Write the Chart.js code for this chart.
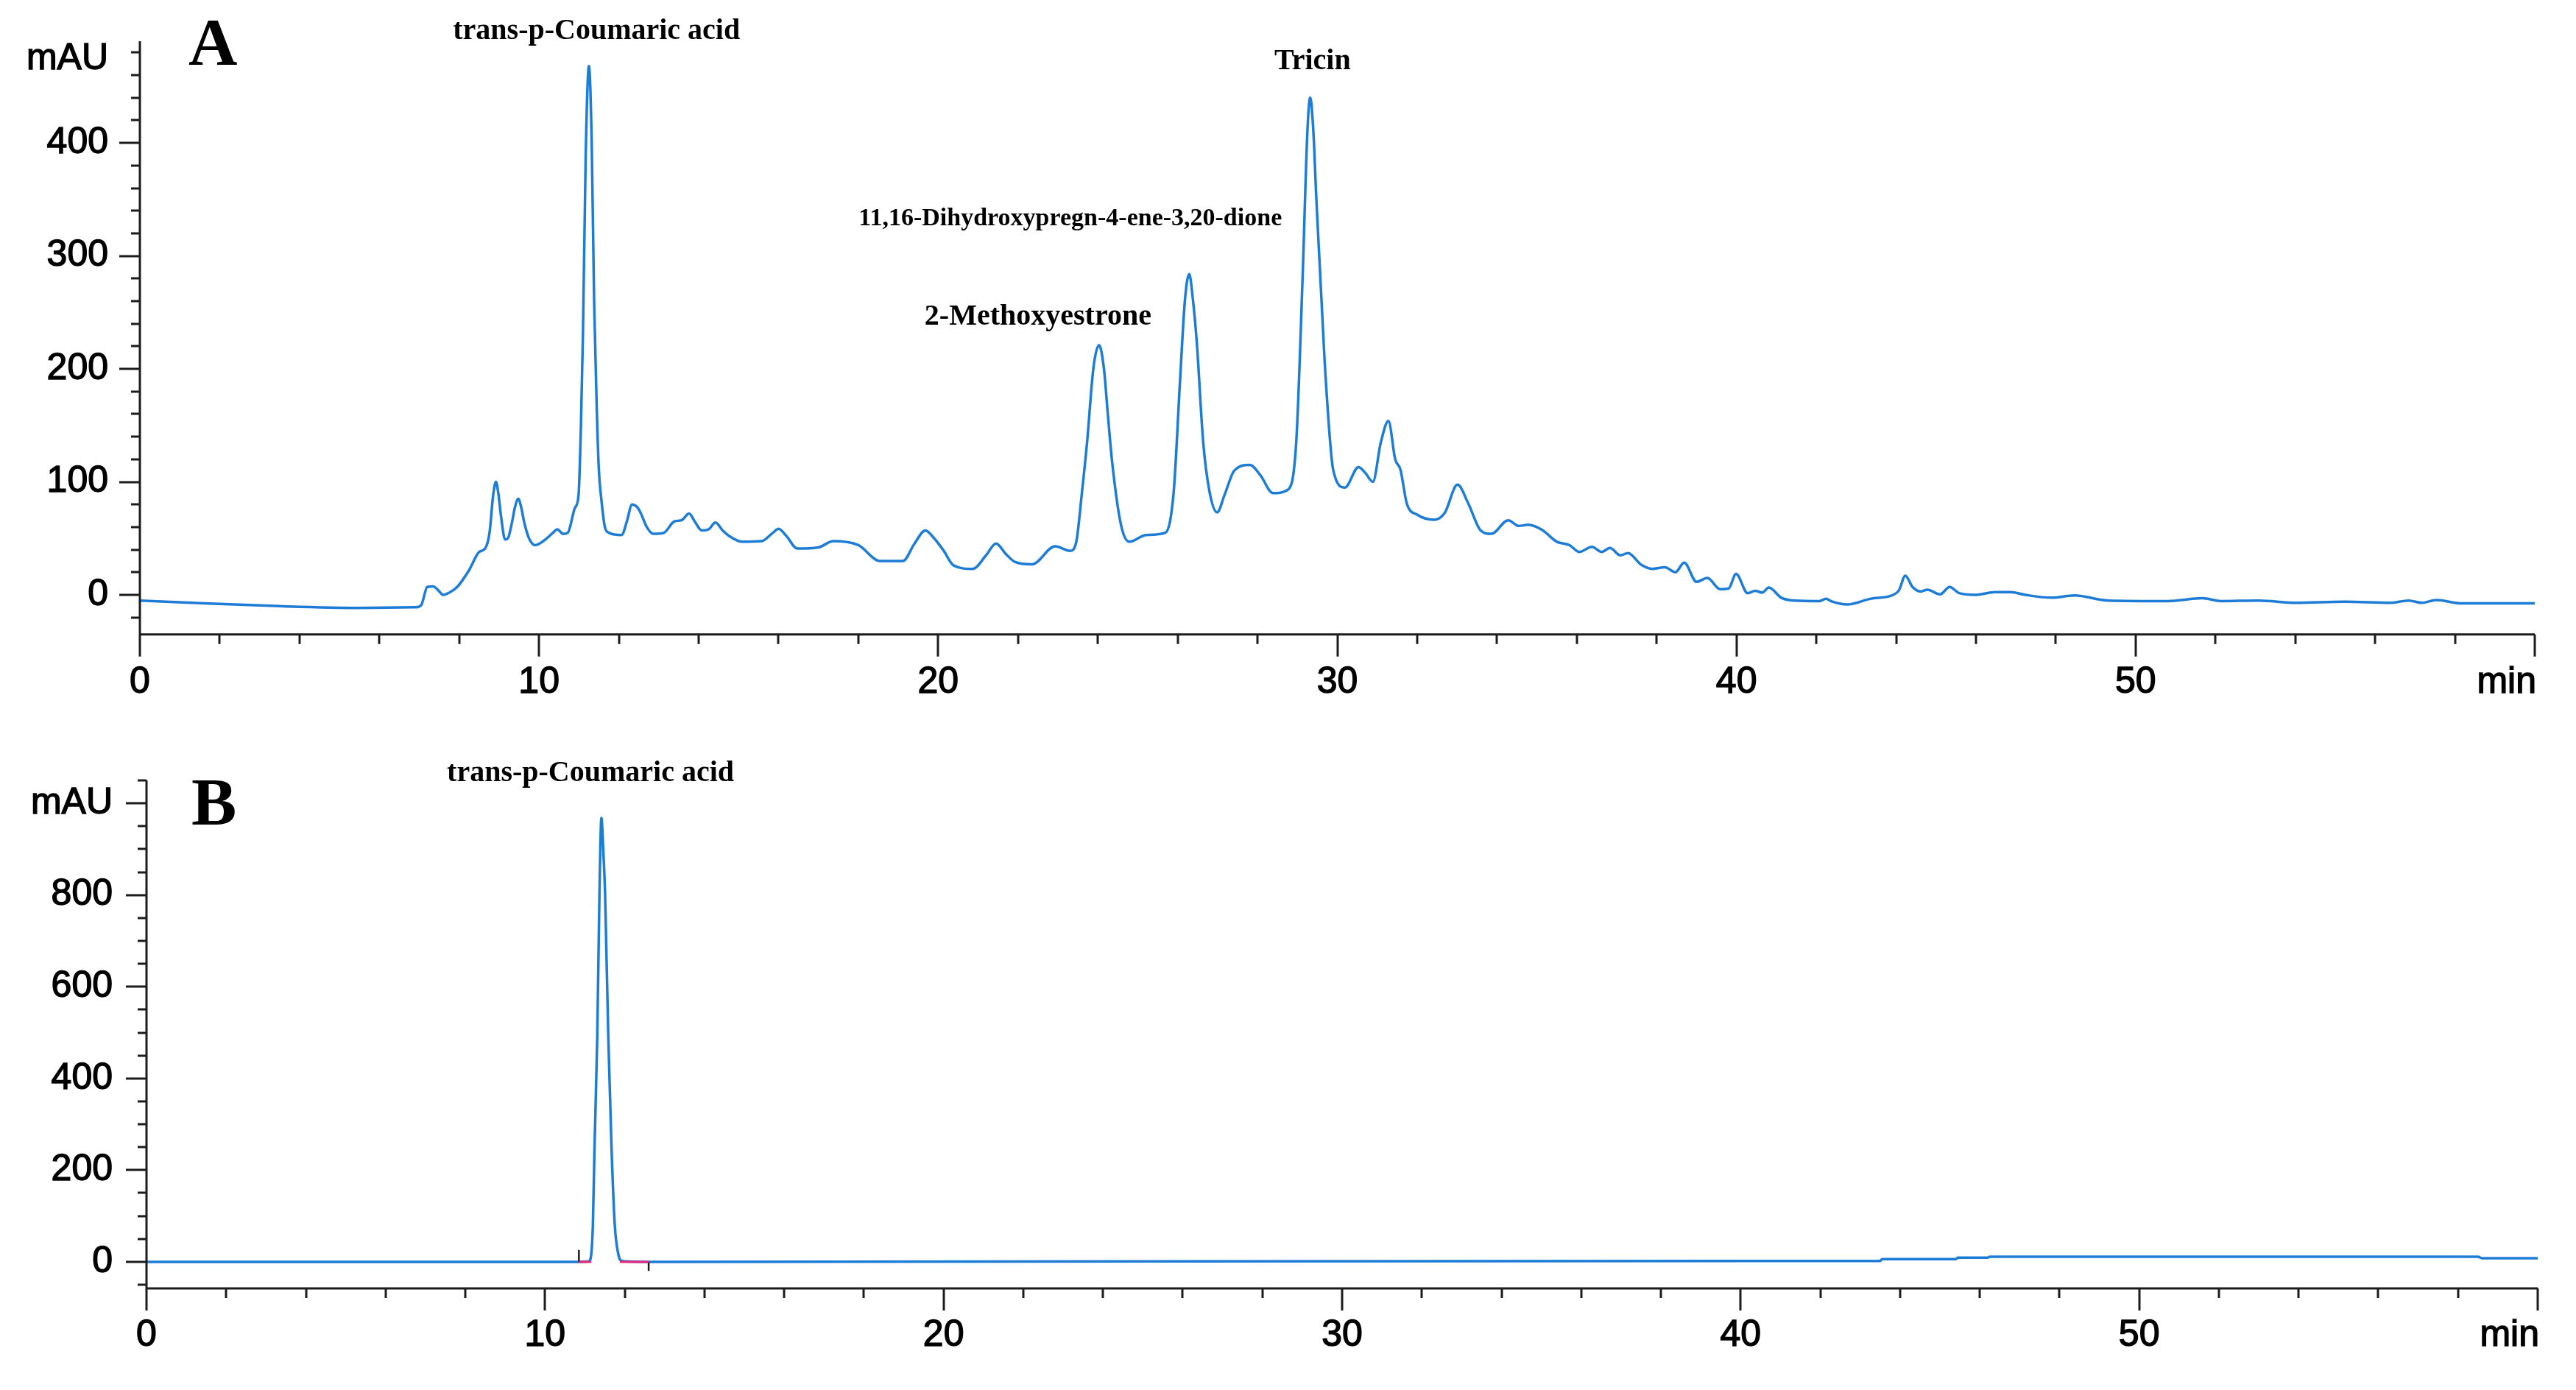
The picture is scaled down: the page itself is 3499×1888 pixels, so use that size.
<!DOCTYPE html>
<html>
<head>
<meta charset="utf-8">
<title>HPLC chromatograms A and B</title>
<script src="https://cdn.jsdelivr.net/npm/chart.js@4.4.1/dist/chart.umd.min.js"></script>
<style>
  html, body { margin: 0; padding: 0; background: #fff; }
  body { width: 3499px; height: 1888px; position: relative; overflow: hidden; }
  canvas { position: absolute; left: 0; }
  #chartA { top: 0; }
  #chartB { top: 960px; }
</style>
</head>
<body>
<canvas id="chartA" width="3499" height="960"></canvas>
<canvas id="chartB" width="3499" height="928"></canvas>
<script>
// ---- Panel A: extract, retention time (min) vs absorbance (mAU) ----
const timeA = [
  0, 1.3, 3.5, 5.5, 6.9, 7.05, 7.2, 7.35, 7.45, 7.6,
  7.75, 7.95, 8.25, 8.5, 8.65, 8.76, 8.85, 8.92, 8.98, 9.05,
  9.15, 9.22, 9.31, 9.4, 9.48, 9.55, 9.63, 9.75, 9.9, 10.16,
  10.35, 10.46, 10.6, 10.72, 10.9, 10.99, 11.05, 11.1, 11.17, 11.25,
  11.32, 11.38, 11.45, 11.5, 11.56, 11.65, 11.75, 12.07, 12.2, 12.33,
  12.45, 12.54, 12.7, 12.86, 13.13, 13.39, 13.57, 13.76, 13.9, 14.08,
  14.25, 14.42, 14.6, 14.77, 15.09, 15.57, 15.86, 16.0, 16.2, 16.47,
  17.0, 17.37, 18.0, 18.54, 19.12, 19.4, 19.68, 19.9, 20.13, 20.39,
  20.87, 21.2, 21.45, 21.7, 21.93, 22.35, 22.93, 23.31, 23.46, 23.6,
  23.73, 23.89, 24.03, 24.15, 24.25, 24.36, 24.58, 24.79, 25.21, 25.69,
  25.9, 26.06, 26.18, 26.29, 26.38, 26.48, 26.64, 26.8, 26.99, 27.17,
  27.42, 27.81, 28.07, 28.39, 28.76, 28.97, 29.13, 29.25, 29.32, 29.4,
  29.47, 29.68, 29.9, 30.19, 30.53, 30.7, 30.89, 31.09, 31.28, 31.45,
  31.58, 31.74, 32.0, 32.43, 32.69, 33.01, 33.28, 33.59, 33.86, 34.28,
  34.55, 34.78, 35.13, 35.5, 35.82, 36.06, 36.38, 36.62, 36.83, 37.09,
  37.28, 37.62, 37.89, 38.21, 38.47, 38.69, 39.0, 39.27, 39.59, 39.8,
  39.99, 40.28, 40.47, 40.65, 40.81, 41.12, 41.44, 42.08, 42.24, 42.4,
  42.77, 43.35, 43.93, 44.07, 44.23, 44.41, 44.62, 44.78, 45.1, 45.34,
  45.58, 46.0, 46.48, 46.87, 47.24, 47.9, 48.47, 49.31, 50.82, 51.67,
  52.14, 53.08, 54.02, 55.24, 56.37, 56.84, 57.17, 57.54, 58.15, 60
];
const signalA = [
  -5, -7, -10, -11.5, -11, -9, 7, 7.5, 5, 0,
  2, 7, 22, 38, 41, 55, 88, 100, 90, 69,
  49, 50, 62, 78, 85, 78, 64, 50, 44, 49,
  55, 58, 54, 55, 77, 88, 150, 230, 390, 468,
  400, 260, 160, 110, 85, 60, 55, 53, 65, 80,
  78, 73, 60, 54, 55, 65, 66, 72, 65, 57,
  58, 64, 57, 52, 47, 47.5, 55, 58.5, 52, 41,
  42, 47.5, 44, 30, 30, 45, 57, 50, 39.5, 26,
  23, 35, 45.5, 36, 29, 27, 43, 39, 47, 90,
  135, 201, 221, 201, 160, 117, 62, 47, 53, 55,
  91, 190, 260, 284, 262, 223, 135, 91, 73, 88,
  110, 115, 106, 90, 93, 135, 281, 410, 440, 410,
  354, 208, 110, 95, 113, 108, 100, 135, 154, 120,
  111, 81, 71, 66.5, 72.5, 97.5, 81, 57, 54, 66,
  61, 62, 57.5, 47, 44, 38, 42.5, 38, 41.5, 35,
  37, 26.5, 23, 24.5, 20, 28.5, 11.5, 15, 5, 5.5,
  18.5, 1.5, 3.5, 2, 6.5, -2.5, -5, -5.5, -3.5, -6,
  -8.5, -3.5, 0, 4, 17, 7, 3, 4.5, 0.5, 7,
  1.5, 0, 2.5, 2.5, 0, -2.5, -0.5, -5, -5.5, -3,
  -5.5, -5, -7, -6, -7, -5, -7, -4.5, -7.5, -7.5
];
const peakNamesA = ['trans-p-Coumaric acid', 'Tricin', '11,16-Dihydroxypregn-4-ene-3,20-dione', '2-Methoxyestrone'];
const yTickLabelsA = [0, 100, 200, 300, 400];

// ---- Panel B: trans-p-coumaric acid standard ----
const timeB = [0, 10.85, 11.1, 11.156, 11.2, 11.24, 11.31, 11.365, 11.415, 11.46,
  11.507, 11.587, 11.67, 11.75, 11.845, 11.9, 12.0, 12.6, 40, 43.5,
  43.55, 45.4, 45.45, 46.2, 46.25, 58.5, 58.6, 60];
const signalB = [0, 0, 1, 14, 80, 244, 490, 801, 968, 900,
  801, 490, 244, 80, 14, 3, 1, 0, 2, 2,
  6, 6, 9, 9, 11, 11, 8, 8];
const baselineStartB = [10.85, 11.88];   // integration baseline segments (red)
const baselineEndB = [11.16, 12.6];
const markerTimesB = [10.85, 12.6];      // peak start / end marks
const markerHeightsB = [26, -20];
const peakNamesB = ['trans-p-Coumaric acid'];
const yTickLabelsB = [0, 200, 400, 600, 800];

const xTickLabels = [0, 10, 20, 30, 40, 50];

const TRACE_COLOR = 'rgb(28, 124, 214)';
const BASELINE_COLOR = 'rgb(232, 40, 120)';
const AXIS_COLOR = '#1c1c1c';
const TEXT_COLOR = '#000';
const SANS = '"Liberation Sans", Arial, sans-serif';
const SERIF = '"Liberation Serif", "Times New Roman", serif';
const TEXT_STROKE = 1.4;   // scanned print looks a bit heavier than plain Arial

function toPoints(xs, ys) {
  return xs.map((x, i) => ({ x: x, y: ys[i] }));
}

// axis lines, major/minor ticks, unit labels, panel letter and peak names
const hplcAxes = {
  id: 'hplcAxes',
  afterDraw(chart, args, o) {
    const { ctx, chartArea: a, scales: { x, y } } = chart;
    ctx.save();
    ctx.strokeStyle = AXIS_COLOR;
    ctx.lineWidth = 3;
    ctx.beginPath();
    ctx.moveTo(a.left, a.top);
    ctx.lineTo(a.left, a.bottom);
    ctx.lineTo(a.right, a.bottom);
    y.ticks.forEach(t => {
      const py = Math.round(y.getPixelForValue(t.value));
      const len = t.value % o.yMajor === 0 ? 28 : 12;
      ctx.moveTo(a.left - len, py);
      ctx.lineTo(a.left, py);
    });
    x.ticks.forEach(t => {
      const px = Math.round(x.getPixelForValue(t.value));
      const len = t.value % 10 === 0 ? 30 : 13;
      ctx.moveTo(px, a.bottom);
      ctx.lineTo(px, a.bottom + len);
    });
    ctx.stroke();

    const label = (txt, px, py) => {
      ctx.fillText(txt, px, py);
      ctx.strokeText(txt, px, py);
    };
    ctx.fillStyle = TEXT_COLOR;
    ctx.strokeStyle = TEXT_COLOR;
    ctx.lineWidth = TEXT_STROKE;
    ctx.font = '50px ' + SANS;
    ctx.textBaseline = 'middle';
    ctx.textAlign = 'right';
    label('mAU', a.left - y.options.ticks.padding, y.getPixelForValue(o.unitAt));
    label('min', a.right + 2, a.bottom + x.options.ticks.padding + 30);

    ctx.lineWidth = 1;
    ctx.textBaseline = 'alphabetic';
    ctx.textAlign = 'left';
    ctx.font = 'bold 92px ' + SERIF;
    ctx.fillText(o.letter, o.letterX, o.letterY);

    ctx.textAlign = 'center';
    o.names.forEach((name, i) => {
      const p = o.namePos[i];
      ctx.font = 'bold ' + p.size + 'px ' + SERIF;
      ctx.fillText(name, x.getPixelForValue(p.t), y.getPixelForValue(p.v));
    });
    ctx.restore();
  }
};

function noEdgePadding(s) {
  s.paddingTop = 0;
  s.paddingBottom = 0;
  s.paddingLeft = 0;
  s.paddingRight = 0;
}

function scalesFor(yMin, yMax, yStep, yLabels, yWidth, yPad, xHeight, xPad) {
  const tickFont = { family: SANS, size: 50 };
  return {
    x: {
      type: 'linear', min: 0, max: 60,
      grid: { display: false, drawTicks: false },
      border: { display: false },
      ticks: {
        stepSize: 2, autoSkip: false, maxRotation: 0, padding: xPad,
        color: TEXT_COLOR, font: tickFont,
        textStrokeColor: TEXT_COLOR, textStrokeWidth: TEXT_STROKE,
        callback: v => xTickLabels.includes(Math.round(v)) ? String(Math.round(v)) : ''
      },
      afterFit: s => { s.height = xHeight; noEdgePadding(s); }
    },
    y: {
      type: 'linear', min: yMin, max: yMax,
      grid: { display: false, drawTicks: false },
      border: { display: false },
      ticks: {
        stepSize: yStep, includeBounds: false, autoSkip: false, padding: yPad,
        color: TEXT_COLOR, font: tickFont,
        textStrokeColor: TEXT_COLOR, textStrokeWidth: TEXT_STROKE,
        callback: v => yLabels.includes(Math.round(v)) ? String(Math.round(v)) : ''
      },
      afterFit: s => { s.width = yWidth; noEdgePadding(s); }
    }
  };
}

const common = {
  responsive: false,
  animation: false,
  devicePixelRatio: 1,
  events: []
};

new Chart(document.getElementById('chartA'), {
  type: 'line',
  data: {
    datasets: [{
      data: toPoints(timeA, signalA),
      borderColor: TRACE_COLOR,
      borderWidth: 3.5,
      pointRadius: 0,
      cubicInterpolationMode: 'monotone',
      fill: false
    }]
  },
  options: Object.assign({}, common, {
    layout: { padding: { top: 56, right: 56, left: 0, bottom: 0 } },
    plugins: {
      legend: { display: false },
      tooltip: { enabled: false },
      hplcAxes: {
        yMajor: 100, unitAt: 474, letter: 'A', letterX: 256, letterY: 88,
        names: peakNamesA,
        namePos: [
          { t: 11.44, v: 492, size: 40 },
          { t: 29.38, v: 465, size: 40 },
          { t: 23.31, v: 327, size: 34 },
          { t: 22.5, v: 239, size: 40 }
        ]
      }
    },
    scales: scalesFor(-35, 490, 20, yTickLabelsA, 190, 43, 98.3, 36)
  }),
  plugins: [hplcAxes]
});

const baselinePts = [];
baselineStartB.forEach((s, i) => {
  if (i > 0) baselinePts.push({ x: (baselineEndB[i - 1] + s) / 2, y: null });
  baselinePts.push({ x: s, y: 0 }, { x: baselineEndB[i], y: 0 });
});
const markerPts = [];
markerTimesB.forEach((t, i) => {
  if (i > 0) markerPts.push({ x: (markerTimesB[i - 1] + t) / 2, y: null });
  markerPts.push({ x: t, y: 0 }, { x: t, y: markerHeightsB[i] });
});

new Chart(document.getElementById('chartB'), {
  type: 'line',
  data: {
    datasets: [{
      data: baselinePts,
      borderColor: BASELINE_COLOR,
      borderWidth: 3,
      pointRadius: 0,
      spanGaps: false,
      order: 0
    }, {
      data: markerPts,
      borderColor: AXIS_COLOR,
      borderWidth: 2.5,
      pointRadius: 0,
      spanGaps: false,
      order: 1
    }, {
      data: toPoints(timeB, signalB),
      borderColor: TRACE_COLOR,
      borderWidth: 3.5,
      pointRadius: 0,
      cubicInterpolationMode: 'monotone',
      fill: false,
      order: 2
    }]
  },
  options: Object.assign({}, common, {
    layout: { padding: { top: 100, right: 52, left: 0, bottom: 0 } },
    plugins: {
      legend: { display: false },
      tooltip: { enabled: false },
      hplcAxes: {
        yMajor: 200, unitAt: 1000, letter: 'B', letterX: 260, letterY: 160,
        names: peakNamesB,
        namePos: [{ t: 11.14, v: 1049, size: 40 }]
      }
    },
    scales: scalesFor(-58, 1050, 50, yTickLabelsB, 199, 46, 138, 34)
  }),
  plugins: [hplcAxes]
});
</script>
</body>
</html>
